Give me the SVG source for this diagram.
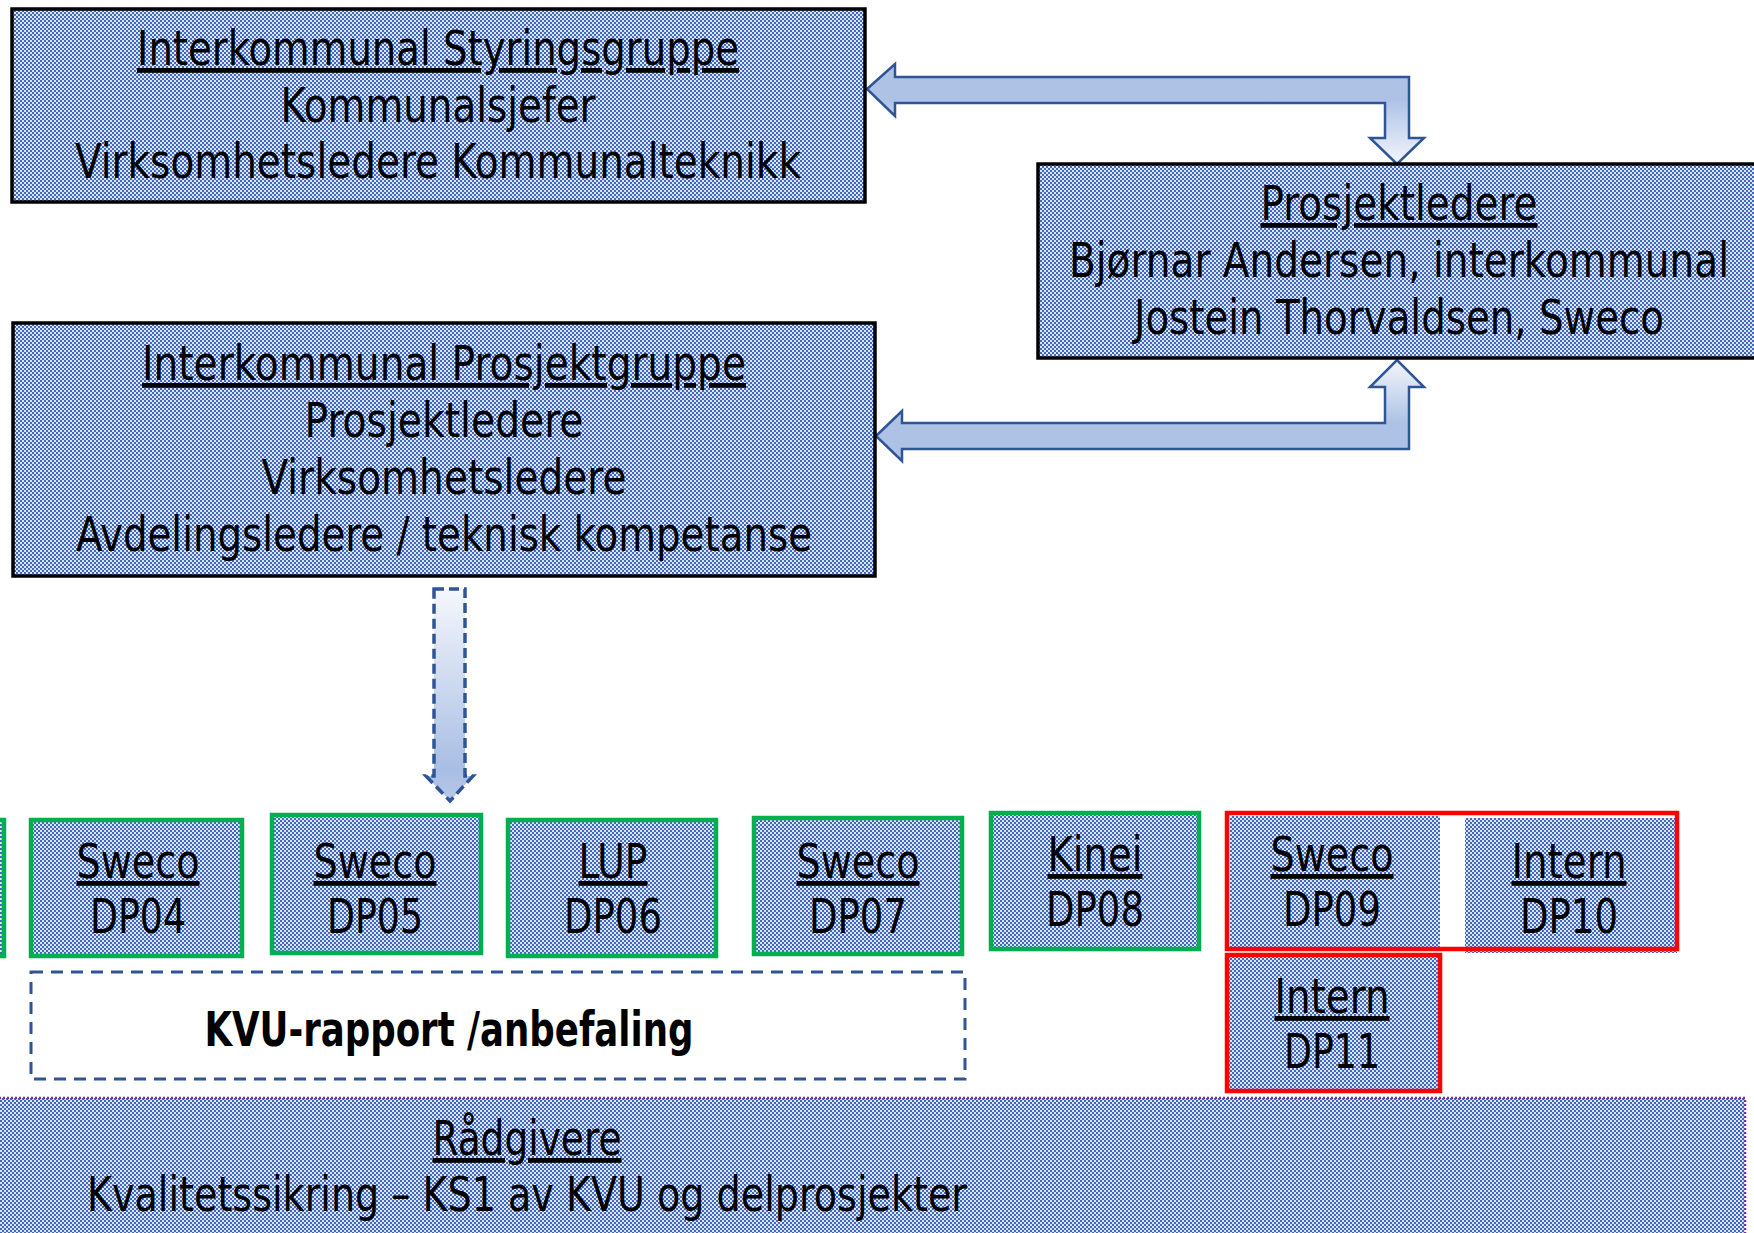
<svg xmlns="http://www.w3.org/2000/svg" width="1754" height="1233" viewBox="0 0 1754 1233">
<style>
  text { font-family: "Liberation Sans Narrow", "DejaVu Sans Condensed", "Liberation Sans", sans-serif; font-size: 48px; fill: #000; text-anchor: middle; }
  .u { text-decoration: underline; }
  .b { font-weight: bold; }
  .box { fill: url(#dots); stroke: #000; stroke-width: 3.5; }
  .green { fill: url(#dots); stroke: #00B050; stroke-width: 4.5; }
  .red { fill: none; stroke: #FF0000; stroke-width: 4.5; }
  .arrow { stroke: #2F5597; stroke-width: 2.5; stroke-linejoin: miter; }
</style>
<defs>
  <pattern id="dots" x="0" y="0" width="4" height="4" patternUnits="userSpaceOnUse">
    <rect width="4" height="4" fill="#DCE4F4"/>
    <rect width="2" height="2" fill="#4169BD"/>
    <rect x="2" y="2" width="2" height="2" fill="#4169BD"/>
  </pattern>
  <linearGradient id="gTop" gradientUnits="userSpaceOnUse" x1="0" y1="100" x2="0" y2="164">
    <stop offset="0" stop-color="#AEC2E6"/>
    <stop offset="1" stop-color="#F3F6FC"/>
  </linearGradient>
  <linearGradient id="gBot" gradientUnits="userSpaceOnUse" x1="0" y1="423" x2="0" y2="360">
    <stop offset="0" stop-color="#AEC2E6"/>
    <stop offset="1" stop-color="#F3F6FC"/>
  </linearGradient>
  <linearGradient id="gDown" gradientUnits="userSpaceOnUse" x1="0" y1="589" x2="0" y2="801">
    <stop offset="0" stop-color="#F5F7FC"/>
    <stop offset="0.85" stop-color="#A9BEE4"/>
    <stop offset="1" stop-color="#B7C8E8"/>
  </linearGradient>
</defs>

<g id="connectors">
  <path class="arrow" fill="url(#gTop)" d="M867,89 L895,64 L895,77 L1409,77 L1409,138 L1424,138 L1397,164 L1370,138 L1385,138 L1385,103 L895,103 L895,116 Z"/>
  <path class="arrow" fill="url(#gBot)" d="M876,436 L902,411 L902,423 L1385,423 L1385,387 L1370,387 L1397,360 L1424,387 L1409,387 L1409,449 L902,449 L902,461 Z"/>
  <path fill="url(#gDown)" stroke="#2F5597" stroke-width="3.5" stroke-dasharray="10,5" d="M434,589 L465,589 L465,776 L473,776 L450,801 L426,776 L434,776 Z"/>
</g>

<g id="styringsgruppe">
  <rect class="box" x="12" y="9" width="853" height="193"/>
  <text class="u" x="438" y="65" textLength="602" lengthAdjust="spacingAndGlyphs">Interkommunal Styringsgruppe</text>
  <text x="438" y="121.5" textLength="315" lengthAdjust="spacingAndGlyphs">Kommunalsjefer</text>
  <text x="438" y="178" textLength="726" lengthAdjust="spacingAndGlyphs">Virksomhetsledere Kommunalteknikk</text>
</g>

<g id="prosjektledere">
  <rect class="box" x="1038" y="164" width="740" height="194"/>
  <text class="u" x="1399" y="220" textLength="277" lengthAdjust="spacingAndGlyphs">Prosjektledere</text>
  <text x="1399" y="277" textLength="660" lengthAdjust="spacingAndGlyphs">Bjørnar Andersen, interkommunal</text>
  <text x="1399" y="334" textLength="530" lengthAdjust="spacingAndGlyphs">Jostein Thorvaldsen, Sweco</text>
</g>

<g id="prosjektgruppe">
  <rect class="box" x="13" y="323" width="862" height="253"/>
  <text class="u" x="444" y="380" textLength="604" lengthAdjust="spacingAndGlyphs">Interkommunal Prosjektgruppe</text>
  <text x="444" y="437" textLength="279" lengthAdjust="spacingAndGlyphs">Prosjektledere</text>
  <text x="444" y="494" textLength="365" lengthAdjust="spacingAndGlyphs">Virksomhetsledere</text>
  <text x="444" y="551" textLength="736" lengthAdjust="spacingAndGlyphs">Avdelingsledere / teknisk kompetanse</text>
</g>

<g id="dp03">
  <rect class="green" x="-150" y="820" width="154" height="136"/>
</g>

<g id="dp04">
  <rect class="green" x="31" y="820" width="211" height="136"/>
  <text class="u" x="138" y="878" textLength="123" lengthAdjust="spacingAndGlyphs">Sweco</text>
  <text x="138" y="933" textLength="96" lengthAdjust="spacingAndGlyphs">DP04</text>
</g>

<g id="dp05">
  <rect class="green" x="272" y="815" width="209" height="138"/>
  <text class="u" x="375" y="878" textLength="123" lengthAdjust="spacingAndGlyphs">Sweco</text>
  <text x="375" y="933" textLength="96" lengthAdjust="spacingAndGlyphs">DP05</text>
</g>

<g id="dp06">
  <rect class="green" x="508" y="820" width="208" height="136"/>
  <text class="u" x="613" y="878" textLength="69" lengthAdjust="spacingAndGlyphs">LUP</text>
  <text x="613" y="933" textLength="98" lengthAdjust="spacingAndGlyphs">DP06</text>
</g>

<g id="dp07">
  <rect class="green" x="754" y="818" width="208" height="136"/>
  <text class="u" x="858" y="878" textLength="123" lengthAdjust="spacingAndGlyphs">Sweco</text>
  <text x="858" y="933" textLength="98" lengthAdjust="spacingAndGlyphs">DP07</text>
</g>

<g id="dp08">
  <rect class="green" x="991" y="813" width="208" height="136"/>
  <text class="u" x="1095" y="871" textLength="95" lengthAdjust="spacingAndGlyphs">Kinei</text>
  <text x="1095" y="926" textLength="98" lengthAdjust="spacingAndGlyphs">DP08</text>
</g>

<g id="dp09-dp10">
  <rect x="1230" y="816" width="210" height="131" fill="url(#dots)"/>
  <rect x="1465" y="818" width="212" height="135" fill="url(#dots)"/>
  <rect class="red" x="1227" y="813" width="450" height="136"/>
  <text class="u" x="1332" y="871" textLength="123" lengthAdjust="spacingAndGlyphs">Sweco</text>
  <text x="1332" y="926" textLength="98" lengthAdjust="spacingAndGlyphs">DP09</text>
  <text class="u" x="1569" y="878" textLength="115" lengthAdjust="spacingAndGlyphs">Intern</text>
  <text x="1569" y="933" textLength="98" lengthAdjust="spacingAndGlyphs">DP10</text>
</g>

<g id="dp11">
  <rect fill="url(#dots)" stroke="#FF0000" stroke-width="4.5" x="1227" y="955" width="213" height="136"/>
  <text class="u" x="1332" y="1013" textLength="115" lengthAdjust="spacingAndGlyphs">Intern</text>
  <text x="1332" y="1068" textLength="96" lengthAdjust="spacingAndGlyphs">DP11</text>
</g>

<g id="kvu">
  <rect x="31" y="972" width="934" height="107" fill="none" stroke="#2F5597" stroke-width="3" stroke-dasharray="12,8"/>
  <text class="b" x="449" y="1046" textLength="489" lengthAdjust="spacingAndGlyphs">KVU-rapport /anbefaling</text>
</g>

<g id="radgivere">
  <rect x="-5" y="1098" width="1750" height="200" fill="url(#dots)" stroke="#7030A0" stroke-width="2.5" stroke-dasharray="2,2"/>
  <text class="u" x="527" y="1155" textLength="189" lengthAdjust="spacingAndGlyphs">Rådgivere</text>
  <text x="527" y="1211" textLength="880" lengthAdjust="spacingAndGlyphs">Kvalitetssikring – KS1 av KVU og delprosjekter</text>
</g>
</svg>
